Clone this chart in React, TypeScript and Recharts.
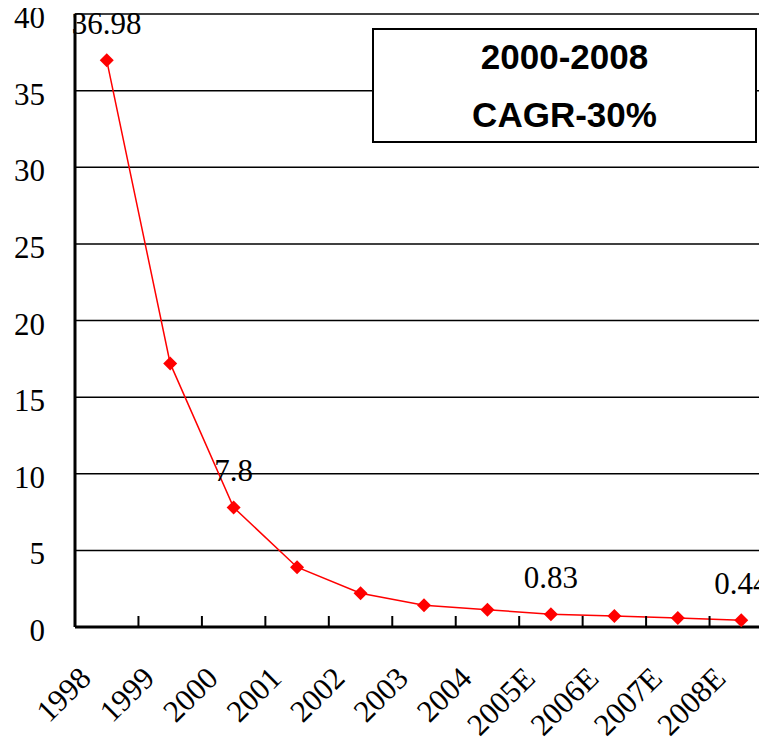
import React from "react";
import { CartesianGrid, LabelList, Line, LineChart, XAxis, YAxis } from "recharts";

const years = ["1998", "1999", "2000", "2001", "2002", "2003", "2004", "2005E", "2006E", "2007E", "2008E"];
const values = [36.98, 17.2, 7.8, 3.9, 2.2, 1.42, 1.13, 0.83, 0.72, 0.58, 0.44];
const labelledYears = ["1998", "2000", "2005E", "2008E"];
const yTicks = [0, 5, 10, 15, 20, 25, 30, 35, 40];
const boxLines = ["2000-2008", "CAGR-30%"];

const data = years.map((year, i) => ({ year, value: values[i] }));

const serif = "'Times New Roman', 'Liberation Serif', 'DejaVu Serif', serif";

// losange rouge pour chaque point
const Diamond = (props: any) => {
  const { cx, cy } = props;
  if (cx == null || cy == null) return null;
  const r = 7;
  return (
    <polygon
      points={`${cx},${cy - r} ${cx + r},${cy} ${cx},${cy + r} ${cx - r},${cy}`}
      fill="#ff0000"
    />
  );
};

// étiquette inclinée + petit trait à la limite gauche de chaque catégorie
const YearTick = (props: any) => {
  const { x, y, payload, index } = props;
  const half = payload.offset ?? 0;
  return (
    <g>
      {index > 0 && (
        <line x1={x - half} x2={x - half} y1={y} y2={y - 11} stroke="#000" strokeWidth={2} />
      )}
      <g transform={`translate(${x - 14},${y + 53})`}>
        <text
          x={0}
          y={0}
          transform="rotate(-45)"
          textAnchor="end"
          style={{ fontFamily: serif }}
          fontSize={31}
          fill="#000"
        >
          {payload.value}
        </text>
      </g>
    </g>
  );
};

const ValueLabel = (props: any) => {
  const { x, y, value, index } = props;
  if (!labelledYears.includes(years[index])) return null;
  return (
    <text x={x} y={y - 26} textAnchor="middle" style={{ fontFamily: serif }} fontSize={31} fill="#000">
      {value}
    </text>
  );
};

export default function App() {
  return (
    <div style={{ position: "relative", width: 759, height: 738, overflow: "hidden", fontFamily: serif }}>
      <LineChart width={770} height={738} data={data} margin={{ top: 6, right: 5, left: 0, bottom: 19 }}>
        <CartesianGrid vertical={false} stroke="#000" strokeWidth={1.5} />
        <XAxis
          dataKey="year"
          type="category"
          scale="band"
          interval={0}
          height={100}
          tickLine={false}
          tickSize={0}
          tickMargin={0}
          axisLine={{ stroke: "#000", strokeWidth: 3 }}
          tick={<YearTick />}
        />
        <YAxis
          width={67}
          domain={[0, 40]}
          ticks={yTicks}
          interval={0}
          tickLine={false}
          tickSize={0}
          tickMargin={30}
          axisLine={{ stroke: "#000", strokeWidth: 3 }}
          tick={{ style: { fontFamily: serif }, fontSize: 31, fill: "#000", dy: 3 }}
        />
        <Line
          type="linear"
          dataKey="value"
          stroke="#ff0000"
          strokeWidth={1.5}
          dot={<Diamond />}
          activeDot={false}
          isAnimationActive={false}
        >
          <LabelList dataKey="value" content={<ValueLabel />} />
        </Line>
      </LineChart>
      <div
        style={{
          position: "absolute",
          left: 364,
          top: 20,
          width: 385,
          height: 115,
          boxSizing: "border-box",
          border: "2px solid #000",
          background: "#fff",
          display: "flex",
          flexDirection: "column",
          justifyContent: "center",
          alignItems: "center",
          fontFamily: "'Liberation Sans', Arial, sans-serif",
          fontWeight: "bold",
          fontSize: 35,
          lineHeight: "58px",
          color: "#000",
        }}
      >
        {boxLines.map((t) => (
          <div key={t}>{t}</div>
        ))}
      </div>
    </div>
  );
}
